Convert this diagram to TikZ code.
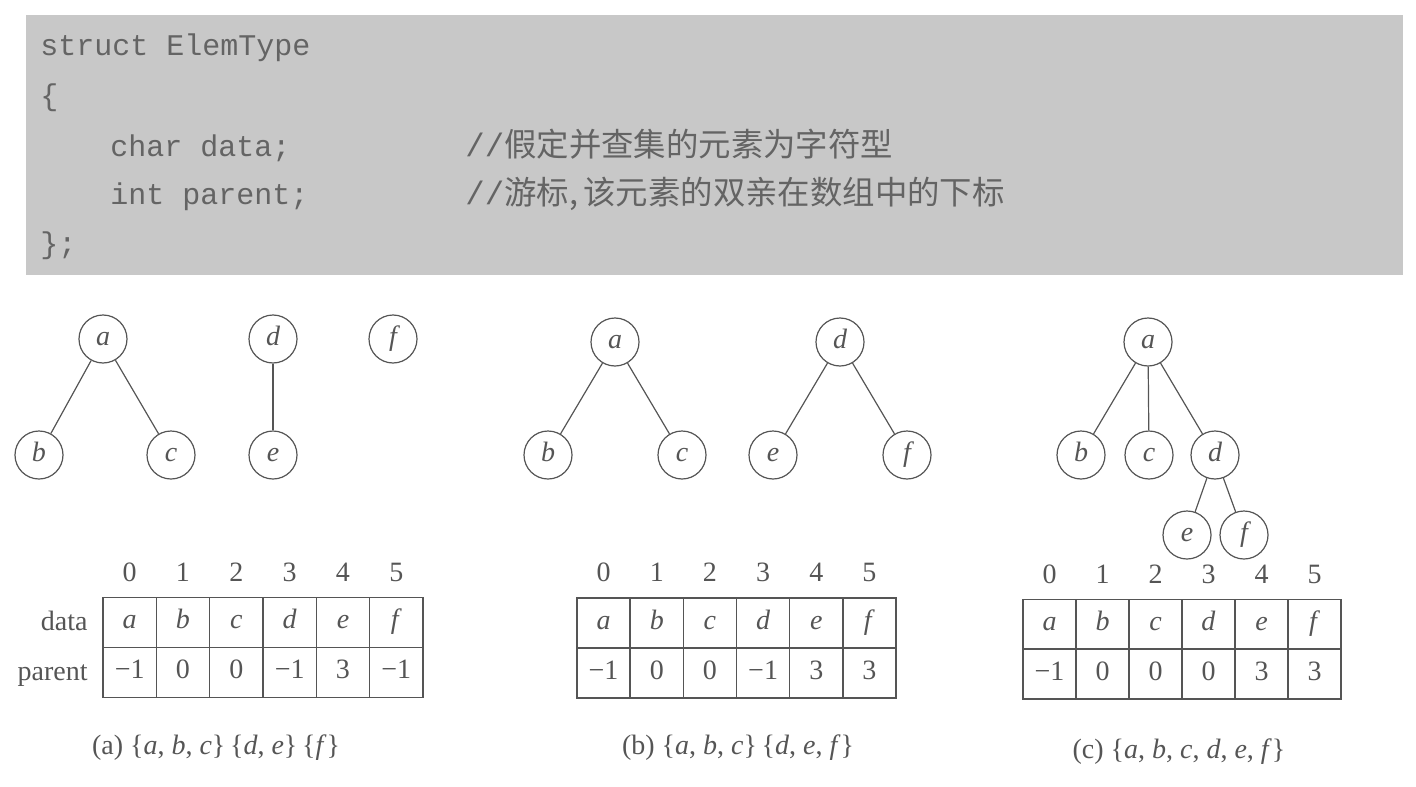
\documentclass[tikz,border=0pt]{standalone}
\usepackage{fontspec}
\setmainfont{Liberation Serif}
\setmonofont{Liberation Mono}
\newfontfamily\cjk{Noto Sans CJK SC}
\definecolor{boxgray}{RGB}{200,200,200}
\definecolor{codetext}{RGB}{100,100,100}
\definecolor{ink}{RGB}{85,85,85}
\begin{document}
\begin{tikzpicture}[x=0.5pt,y=-0.5pt,
  vert/.style={circle,draw=ink,line width=0.6pt,minimum size=24pt,inner sep=0pt,
    text height=0.76em,text depth=0.14em,
    font=\fontsize{14}{16}\selectfont\itshape,text=ink},
  edge/.style={draw=ink,line width=0.6pt},
  cell/.style={draw=ink,line width=0.7pt,minimum width=26.6pt,minimum height=25pt,
    text height=0.76em,text depth=0.14em,
    inner sep=0pt,font=\fontsize{14}{16}\selectfont,text=ink},
  idx/.style={inner sep=0pt,text height=0.76em,text depth=0.14em,font=\fontsize{14}{16}\selectfont,text=ink},
  lbl/.style={inner sep=0pt,anchor=base east,font=\fontsize{14}{16}\selectfont,text=ink},
  captxt/.style={inner sep=0pt,font=\fontsize{14}{16}\selectfont,text=ink},
  code/.style={inner sep=0pt,anchor=base west,font=\fontsize{15}{17}\selectfont\ttfamily,text=codetext},
  cmt/.style={inner sep=0pt,anchor=base west,font=\fontsize{16.2}{18}\selectfont\cjk,text=codetext}
]
\useasboundingbox (0,0) rectangle (1416,786);
% code box
\fill[boxgray] (26,15) rectangle (1403,275);
\node[code] (l1) at (40,56) {struct ElemType};
\node[code] (l2) at (40,106) {\{};
\node[code] (l3) at (110,157) {char data;};
\node[code] (l4) at (110,205) {int parent;};
\node[code] (l5) at (40,253) {\};};
\node[cmt] (c1) at (465,157) {{\ttfamily//}假定并查集的元素为字符型};
\node[cmt] (c2) at (465,205) {{\ttfamily//}游标,\,该元素的双亲在数组中的下标};

% ---------- (a) ----------
\node[vert] (aa) at (103,339) {a};
\node[vert] (ab) at (39,455) {b};
\node[vert] (ac) at (171,455) {c};
\node[vert] (ad) at (273,339) {d};
\node[vert] (ae) at (273,455) {e};
\node[vert] (af) at (393,339) {f};
\draw[edge] (aa) -- (ab);
\draw[edge] (aa) -- (ac);
\draw[edge] (ad) -- (ae);

\foreach \v [count=\i from 0] in {a,b,c,d,e,f}
  \node[cell] (ta-d\i) at ({103+53.33*(\i+0.5)},622.5) {\textit{\v}};
\foreach \v [count=\i from 0] in {−1,0,0,−1,3,−1}
  \node[cell] (ta-p\i) at ({103+53.33*(\i+0.5)},672.5) {\v};
\foreach \i in {0,...,5}
  \node[idx] (ta-i\i) at ({103+53.33*(\i+0.5)},575) {\i};
\node[lbl] (ldata) at (88,630) {data};
\node[lbl] (lparent) at (88,680) {parent};
\node[captxt] (capa) at (216,748) {(a) \{\textit{a}, \textit{b}, \textit{c}\}\,\{\textit{d}, \textit{e}\}\,\{\textit{f}\}};

% ---------- (b) ----------
\node[vert] (ba) at (615,342) {a};
\node[vert] (bb) at (548,455) {b};
\node[vert] (bc) at (682,455) {c};
\node[vert] (bd) at (840,342) {d};
\node[vert] (be) at (773,455) {e};
\node[vert] (bf) at (907,455) {f};
\draw[edge] (ba) -- (bb);
\draw[edge] (ba) -- (bc);
\draw[edge] (bd) -- (be);
\draw[edge] (bd) -- (bf);

\foreach \v [count=\i from 0] in {a,b,c,d,e,f}
  \node[cell] (tb-d\i) at ({577+53.17*(\i+0.5)},623) {\textit{\v}};
\foreach \v [count=\i from 0] in {−1,0,0,−1,3,3}
  \node[cell] (tb-p\i) at ({577+53.17*(\i+0.5)},673) {\v};
\foreach \i in {0,...,5}
  \node[idx] (tb-i\i) at ({577+53.17*(\i+0.5)},575) {\i};
\node[captxt] (capb) at (738,748) {(b) \{\textit{a}, \textit{b}, \textit{c}\}\,\{\textit{d}, \textit{e}, \textit{f}\}};

% ---------- (c) ----------
\node[vert] (ca) at (1148,342) {a};
\node[vert] (cb) at (1081,455) {b};
\node[vert] (cc) at (1149,455) {c};
\node[vert] (cd) at (1215,455) {d};
\node[vert] (ce) at (1187,535) {e};
\node[vert] (cf) at (1244,535) {f};
\draw[edge] (ca) -- (cb);
\draw[edge] (ca) -- (cc);
\draw[edge] (ca) -- (cd);
\draw[edge] (cd) -- (ce);
\draw[edge] (cd) -- (cf);

\foreach \v [count=\i from 0] in {a,b,c,d,e,f}
  \node[cell] (tc-d\i) at ({1023+53*(\i+0.5)},624.5) {\textit{\v}};
\foreach \v [count=\i from 0] in {−1,0,0,0,3,3}
  \node[cell] (tc-p\i) at ({1023+53*(\i+0.5)},674) {\v};
\foreach \i in {0,...,5}
  \node[idx] (tc-i\i) at ({1023+53*(\i+0.5)},577) {\i};
\node[captxt] (capc) at (1179,752) {(c) \{\textit{a}, \textit{b}, \textit{c}, \textit{d}, \textit{e}, \textit{f}\}};
\end{tikzpicture}
\end{document}
